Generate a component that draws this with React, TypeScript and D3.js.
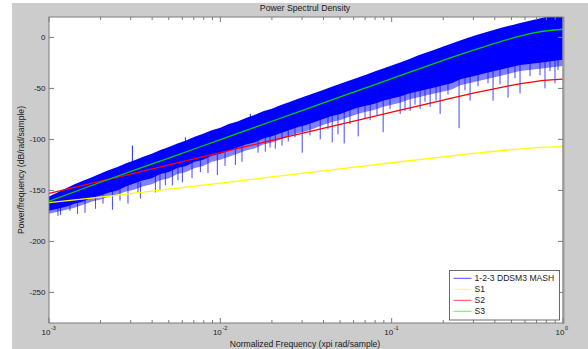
import React from "react";
import * as d3 from "d3";

const W = 588;
const H = 349;

// Smooth reference curves (frequency in x pi rad/sample, dB/rad/sample)
const curveFreq = [0.001, 0.002, 0.005, 0.01, 0.02, 0.05, 0.1, 0.2, 0.3, 0.5, 0.7, 1.0];
const s1Values = [-162, -156.5, -148.8, -142.8, -136.8, -128.8, -122.9, -117.1, -113.8, -110, -108, -107];
const s2Values = [-153, -141, -125, -113, -101, -85.2, -73.3, -61.4, -54.7, -47, -43.1, -41];
const s3Values = [-160.5, -142, -118.3, -100.2, -82.2, -58.4, -40.4, -22.5, -12.5, -1, 5, 8];

// Noisy PSD band
const bandFreq = [0.001, 0.00112, 0.00126, 0.00141, 0.00158, 0.00178, 0.002, 0.00224, 0.00251, 0.00282,
  0.00316, 0.00355, 0.00398, 0.00447, 0.00501, 0.00562, 0.00631, 0.00708, 0.00794, 0.00891,
  0.01, 0.0112, 0.0126, 0.0141, 0.0158, 0.0178, 0.02, 0.0224, 0.0251, 0.0282,
  0.0316, 0.0355, 0.0398, 0.0447, 0.0501, 0.0562, 0.0631, 0.0708, 0.0794, 0.0891,
  0.1, 0.112, 0.126, 0.141, 0.158, 0.178, 0.2, 0.224, 0.251, 0.282,
  0.316, 0.355, 0.398, 0.447, 0.501, 0.562, 0.631, 0.708, 0.794, 0.891, 1.0];
const bandUpper = [-156, -152, -148, -144, -140.5, -137, -133.5, -130, -127, -123.5,
  -120.5, -117, -114, -110.5, -107.5, -104, -101, -97.5, -94.5, -91,
  -88.5, -85, -82.5, -79, -76, -72.5, -70, -66.5, -63.5, -60.5,
  -57.5, -54.5, -51.5, -48.5, -45.5, -42.5, -39.5, -36.5, -33.5, -30.5,
  -27.5, -24.5, -21.5, -18, -15, -12, -9, -6, -3, 0,
  2.5, 5, 7.5, 10, 12, 14, 16, 18, 20, 21, 22];
const bandLower = [-170, -168, -166, -163, -161, -157, -155, -152, -150, -146,
  -143, -140, -138, -134, -132, -128, -126, -122, -120, -116,
  -114, -111, -108, -105, -103, -99, -97, -94, -91, -88,
  -86, -83, -80, -77, -75, -72, -69, -67, -65, -62,
  -60, -58, -55, -53, -51, -49, -47, -45, -41, -39,
  -37, -35, -33, -31, -29, -27, -26, -25, -24, -23, -22];
const bandStreak = [-173, -171, -169, -167, -164, -161, -159, -156, -154, -151,
  -149, -146, -144, -140, -138, -134, -132, -128, -126, -122,
  -120, -117, -114, -111, -109, -105, -103, -100, -97, -94,
  -92, -89, -86, -83, -81, -78, -75, -73, -71, -68,
  -66, -64, -61, -59, -57, -55, -53, -51, -47, -45,
  -43, -41, -39, -37, -35, -33, -32, -31, -30, -29, -28];

// Downward needles of the PSD
const spikeFreq = [0.001167, 0.001466, 0.001867, 0.002346, 0.003416, 0.004178, 0.004778, 0.00525, 0.006004, 0.00765,
  0.009605, 0.01224, 0.0183, 0.02093, 0.02491, 0.03006, 0.03829, 0.04498, 0.05284, 0.06378,
  0.0749, 0.0892, 0.1121, 0.1282, 0.1466, 0.1677, 0.1918, 0.2474, 0.2869, 0.3906, 0.4778, 0.5614, 0.785, 0.898,
  0.001128, 0.001326, 0.001622, 0.002067, 0.002597, 0.002891, 0.003307, 0.004444, 0.005659, 0.006836,
  0.008472, 0.01065, 0.01338, 0.0166, 0.0195, 0.02291, 0.02728, 0.03337, 0.0425, 0.04861,
  0.05711, 0.0699, 0.08211, 0.09779, 0.1196, 0.1369, 0.1565, 0.1815, 0.2132, 0.2679,
  0.3191, 0.365, 0.4287, 0.5246, 0.6419, 0.734, 0.8398, 0.9352];
const spikeTop = [-165, -160, -155, -150, -142, -135, -130, -128, -125, -120,
  -115, -106, -95, -92, -88, -83, -78, -74, -70, -66,
  -62, -58, -54, -52, -50, -47, -44, -38, -36, -31, -28, -25, -22, -22,
  -165, -162, -157, -151, -146, -143, -139, -131, -125, -120,
  -115, -110, -104, -99, -94, -91, -86, -82, -76, -73,
  -69, -64, -61, -58, -54, -51, -48, -46, -43, -36,
  -34, -32, -29, -25, -23, -22, -20, -20];
const spikeBottom = [-174, -173, -168, -169, -158, -152, -145, -145, -142, -132,
  -135, -125, -112, -109, -102, -113, -100, -103, -104, -97,
  -81, -93, -75, -72, -70, -68, -75, -89, -62, -62, -59, -55, -50, -45,
  -175, -170, -172, -163, -160, -163, -152, -150, -140, -138,
  -133, -126, -122, -113, -108, -106, -98, -96, -90, -95,
  -85, -80, -77, -70, -72, -66, -63, -62, -56, -52,
  -48, -45, -46, -40, -38, -37, -33, -32];
// Upward needles
const upFreq = [0.003068, 0.006251, 0.01496];
const upBottom = [-125, -110, -85];
const upTop = [-106, -98, -75];

const yTicks = [-250, -200, -150, -100, -50, 0];
const xMajor = [0.001, 0.01, 0.1, 1];
const xMajorExp = ["-3", "-2", "-1", "0"];
const legendLabels = ["1-2-3 DDSM3 MASH", "S1", "S2", "S3"];
const legendColors = ["#0000ff", "#ffff00", "#ff0000", "#00ff00"];

export default function App() {
  const left = 49, right = 563, top = 17, bottom = 323;
  const x = d3.scaleLog().domain([0.001, 1]).range([left, right]);
  const y = d3.scaleLinear().domain([-280, 20]).range([bottom, top]);

  const idx = bandFreq.map((_, i) => i);
  const solidArea = d3.area<number>()
    .x((i) => x(bandFreq[i]))
    .y0((i) => y(bandLower[i]))
    .y1((i) => y(bandUpper[i]))(idx) || "";
  const streakArea = d3.area<number>()
    .x((i) => x(bandFreq[i]))
    .y0((i) => y(bandStreak[i]))
    .y1((i) => y(bandLower[i]) - 1)(idx) || "";

  const mkLine = (vals: number[]) =>
    d3.line<number>()
      .x((i) => x(curveFreq[i]))
      .y((i) => y(vals[i]))
      .curve(d3.curveMonotoneX)(curveFreq.map((_, i) => i)) || "";

  const minor: number[] = [];
  [0.001, 0.01, 0.1].forEach((d) => {
    for (let m = 2; m <= 9; m++) minor.push(d * m);
  });

  const axisCol = "#7a7a7a";
  const textCol = "#1a1a1a";
  const font = "'Liberation Sans', Arial, sans-serif";

  return (
    <svg width={W} height={H} style={{ position: "absolute", left: 0, top: 0 }} fontFamily={font}>
      <rect x={0} y={0} width={W} height={H} fill="#ffffff" />
      <rect x={12} y={3} width={W - 12} height={H - 3} fill="#cccccc" />
      <rect x={left} y={top} width={right - left} height={bottom - top} fill="#ffffff" />
      <defs>
        <clipPath id="plotclip">
          <rect x={left} y={top} width={right - left} height={bottom - top} />
        </clipPath>
      </defs>
      <g clipPath="url(#plotclip)">
        <path d={streakArea} fill="#2a2aff" opacity={0.6} />
        <path d={solidArea} fill="#0000ff" />
        {spikeFreq.map((f, i) => (
          <line key={"s" + i} x1={x(f)} x2={x(f)} y1={y(spikeTop[i])} y2={y(spikeBottom[i])}
            stroke="#0000ff" strokeWidth={0.9} opacity={0.8} />
        ))}
        {upFreq.map((f, i) => (
          <line key={"u" + i} x1={x(f)} x2={x(f)} y1={y(upBottom[i])} y2={y(upTop[i])}
            stroke="#0000ff" strokeWidth={1} opacity={0.85} />
        ))}
        <path d={mkLine(s1Values)} fill="none" stroke="#ffff00" strokeWidth={1.3} />
        <path d={mkLine(s2Values)} fill="none" stroke="#ff0000" strokeWidth={1.3} />
        <path d={mkLine(s3Values)} fill="none" stroke="#00d000" strokeWidth={1.3} />
      </g>

      {/* axes box */}
      <rect x={left} y={top} width={right - left} height={bottom - top} fill="none" stroke={axisCol} strokeWidth={1} />
      <line x1={right + 0.5} x2={right + 0.5} y1={top} y2={bottom + 1} stroke="#9a9a9a" strokeWidth={2} />

      {/* y ticks */}
      {yTicks.map((t) => (
        <g key={"y" + t}>
          <line x1={left} x2={left + 5} y1={y(t)} y2={y(t)} stroke={axisCol} />
          <line x1={right - 5} x2={right} y1={y(t)} y2={y(t)} stroke={axisCol} />
          <text x={left - 3.5} y={y(t) + 2.8} fontSize={8} textAnchor="end" fill={textCol}>{t}</text>
        </g>
      ))}

      {/* x ticks */}
      {minor.map((t, i) => (
        <g key={"m" + i}>
          <line x1={x(t)} x2={x(t)} y1={bottom} y2={bottom - 3} stroke={axisCol} />
          <line x1={x(t)} x2={x(t)} y1={top} y2={top + 3} stroke={axisCol} />
        </g>
      ))}
      {xMajor.map((t, i) => (
        <g key={"M" + i}>
          <line x1={x(t)} x2={x(t)} y1={bottom} y2={bottom - 5} stroke={axisCol} />
          <line x1={x(t)} x2={x(t)} y1={top} y2={top + 5} stroke={axisCol} />
          <text x={x(t) + 1.5} y={335} fontSize={8} textAnchor="end" fill={textCol}>10</text>
          <text x={x(t) + 2} y={329.5} fontSize={5.5} textAnchor="start" fill={textCol}>{xMajorExp[i]}</text>
        </g>
      ))}

      {/* title and labels */}
      <text x={305} y={11} fontSize={8.7} textAnchor="middle" fill={textCol}>Power Spectrul Density</text>
      <text x={305} y={346.5} fontSize={8.6} textAnchor="middle" fill={textCol}>Normalized Frequency (xpi rad/sample)</text>
      <text transform={`translate(24,${(top + bottom) / 2}) rotate(-90)`} fontSize={8.6} textAnchor="middle" fill={textCol}>
        Power/frequency (dB/rad/sample)
      </text>

      {/* legend */}
      <rect x={449.5} y={270.5} width={110} height={49.5} fill="#ffffff" stroke="#6a6a6a" strokeWidth={1} />
      {legendLabels.map((lab, i) => {
        const cy = 278.3 + i * 11;
        return (
          <g key={"l" + i}>
            <line x1={453.5} x2={471.5} y1={cy} y2={cy} stroke={legendColors[i]} strokeWidth={1} opacity={0.7} />
            <text x={474.5} y={cy + 3} fontSize={8.6} fill={textCol}>{lab}</text>
          </g>
        );
      })}
    </svg>
  );
}
